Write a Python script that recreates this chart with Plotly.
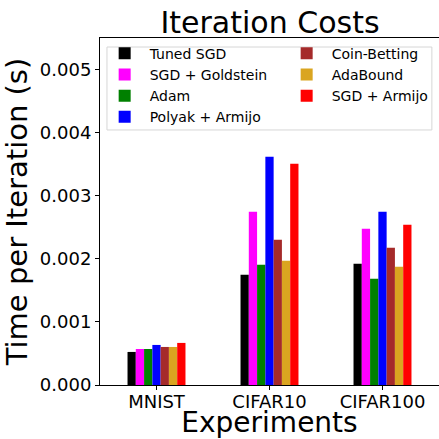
import plotly.graph_objects as go

experiments = ["MNIST", "CIFAR10", "CIFAR100"]
methods = ["Tuned SGD", "SGD + Goldstein", "Adam", "Polyak + Armijo",
           "Coin-Betting", "AdaBound", "SGD + Armijo"]
colors = ["black", "magenta", "green", "blue", "brown", "goldenrod", "red"]
legend_ranks = [1, 3, 5, 7, 2, 4, 6]

tuned_sgd = [0.000524, 0.001746, 0.001921]
sgd_goldstein = [0.000571, 0.002746, 0.002476]
adam = [0.000571, 0.001905, 0.001683]
polyak_armijo = [0.000635, 0.003619, 0.002746]
coin_betting = [0.000603, 0.002302, 0.002175]
adabound = [0.000603, 0.001968, 0.001873]
sgd_armijo = [0.000667, 0.003508, 0.002540]

series = [tuned_sgd, sgd_goldstein, adam, polyak_armijo,
          coin_betting, adabound, sgd_armijo]

font = "DejaVu Sans"
fig = go.Figure()
for name, vals, c, r in zip(methods, series, colors, legend_ranks):
    fig.add_trace(go.Bar(x=experiments, y=vals, name=name, marker_color=c,
                         marker_line_width=0, legendrank=r))

fig.update_layout(
    width=439, height=439,
    margin=dict(l=100, r=0, t=38, b=54, autoexpand=False),
    paper_bgcolor="white", plot_bgcolor="white",
    barmode="group", bargap=0.487, bargroupgap=0,
    font=dict(family=font, color="black"),
    title=dict(text="Iteration Costs", font=dict(size=30, family=font, color="black"),
               x=270 / 439, xanchor="center", xref="container",
               yref="container", y=1 - 22 / 439, yanchor="middle"),
    showlegend=True,
    legend=dict(orientation="h", x=-0.001, y=1.001, xanchor="left", yanchor="top",
                entrywidth=127, entrywidthmode="pixels", itemwidth=40,
                font=dict(size=14, family=font, color="black"),
                borderwidth=0, bgcolor="rgba(0,0,0,0)",
                traceorder="normal"),
    shapes=[dict(type="rect", xref="paper", yref="paper",
                 x0=0.0206, x1=0.979, y0=0.735, y1=0.974,
                 line=dict(color="#d6d6d6", width=1), layer="below")],
)
fig.update_xaxes(
    showline=True, linecolor="black", linewidth=1, mirror=True,
    ticks="outside", ticklen=4, tickcolor="black",
    tickfont=dict(size=18, family=font, color="black"),
    ticklabelstandoff=-4,
    title=dict(text="Experiments", font=dict(size=28, family=font, color="black"), standoff=5),
    showgrid=False,
)
fig.update_yaxes(
    range=[0, 0.0055],
    tickvals=[0, 0.001, 0.002, 0.003, 0.004, 0.005],
    tickformat=".3f",
    showline=True, linecolor="black", linewidth=1, mirror=True,
    ticks="outside", ticklen=4, tickcolor="black",
    tickfont=dict(size=18, family=font, color="black"),
    title=dict(text="Time per Iteration (s)", font=dict(size=29, family=font, color="black"), standoff=6),
    showgrid=False, zeroline=False,
)

fig.write_html("out.html", config={"displayModeBar": False},
               post_script="document.body.style.margin='0';")
